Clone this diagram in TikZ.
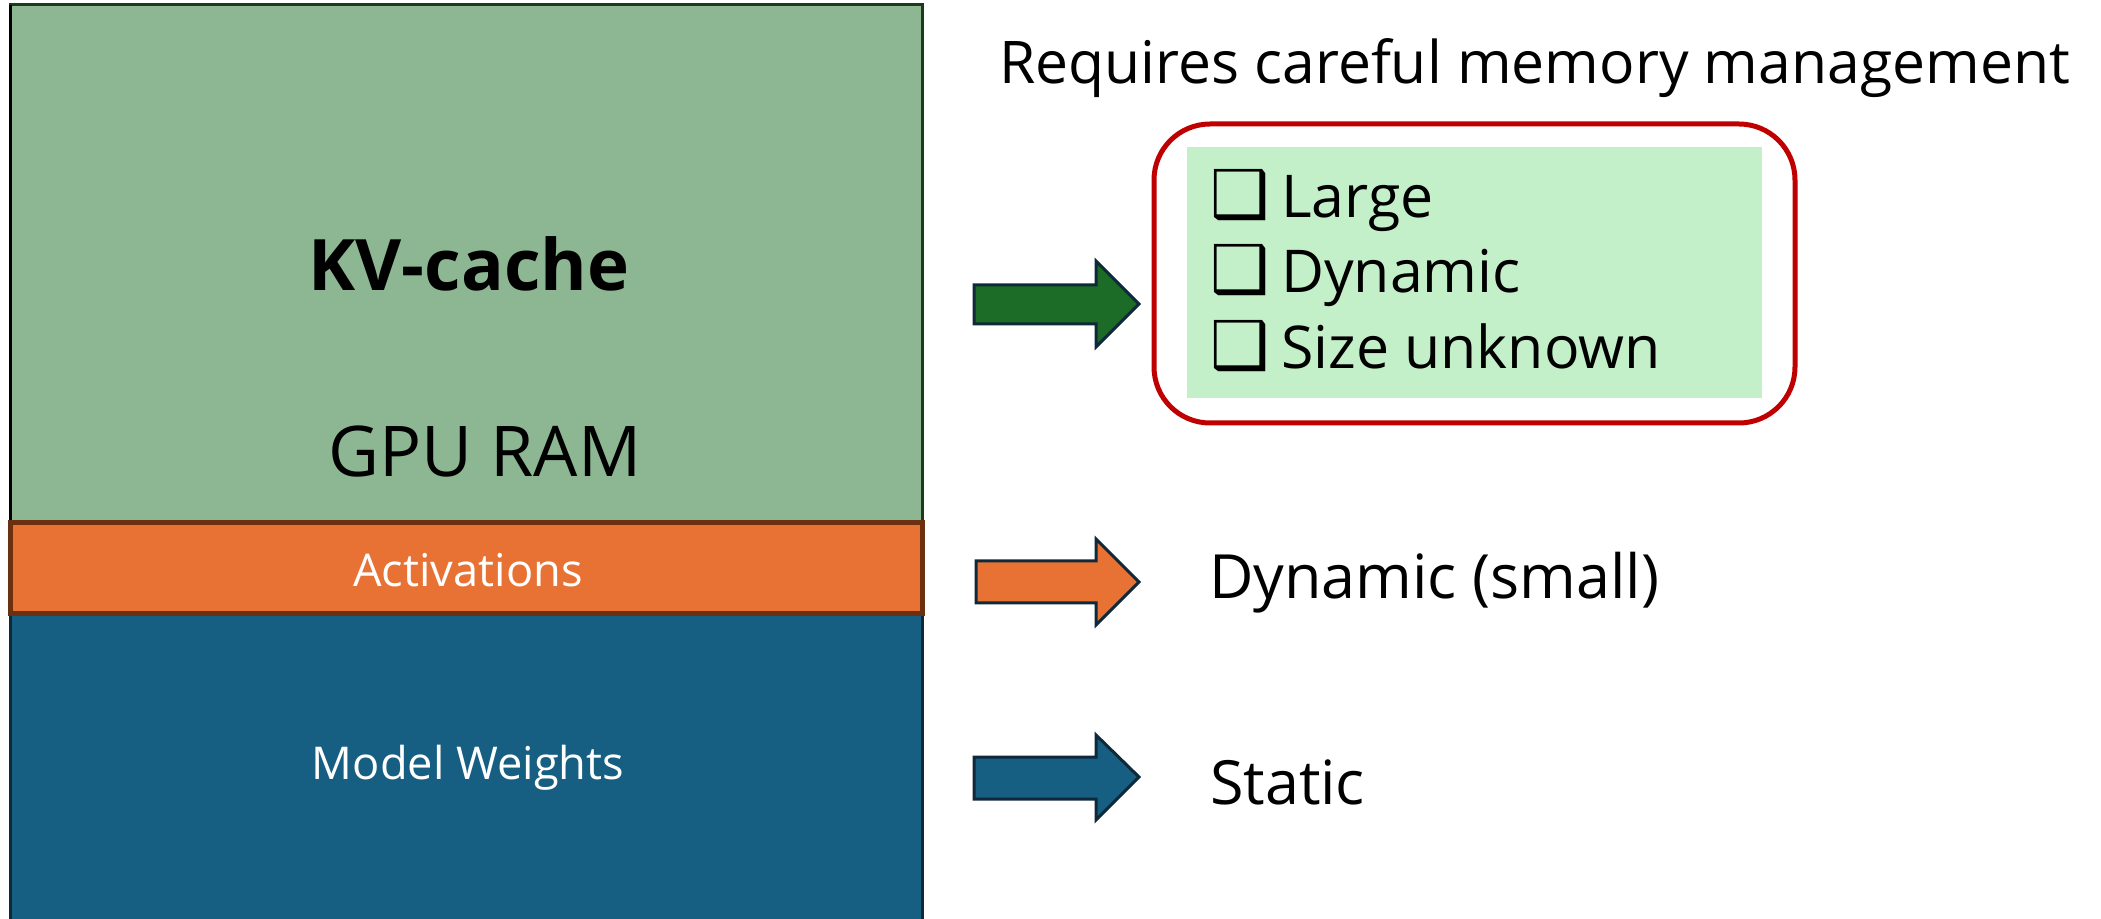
\documentclass[tikz,border=0pt]{standalone}
\usepackage{fontspec}
\setmainfont{Open Sans}
\newfontfamily\symfont{DejaVu Sans}
\definecolor{kvgreen}{HTML}{8DB692}
\definecolor{actorange}{HTML}{E87234}
\definecolor{wblue}{HTML}{175F82}
\definecolor{arrgreen}{HTML}{1C6B26}
\definecolor{lightgreen}{HTML}{C3F0C8}
\definecolor{redline}{HTML}{C00000}
\definecolor{darknavy}{HTML}{0E2A3A}
\definecolor{brownline}{HTML}{6B3010}
\definecolor{darkgreenline}{HTML}{1A3A1A}
\begin{document}
\begin{tikzpicture}[x=0.5pt,y=-0.5pt,
  blocktext/.style={font=\fontsize{22.6}{26}\selectfont, text=white},
  bigtext/.style={font=\fontsize{35}{40}\selectfont},
  sidetext/.style={font=\fontsize{30.5}{36}\selectfont, anchor=base west},
  itemtext/.style={font=\fontsize{29.5}{34}\selectfont, anchor=base west},
  chkbox/.style={font=\fontsize{33}{36}\selectfont\symfont, anchor=base west, inner sep=0pt},
  blockarrow/.style={draw=darknavy, line width=1.5pt, line join=miter}]
\useasboundingbox (0,0) rectangle (2101,919);
% memory blocks
\draw[fill=kvgreen, draw=darkgreenline, line width=1.5pt] (10,5) rectangle (922,523);
\draw[black, line width=1.5pt] (10,5) -- (10,523);
\draw[fill=wblue, draw=darknavy, line width=1.5pt] (10,614) rectangle (922,921);
\draw[fill=actorange, draw=brownline, line width=2.5pt] (10,523) rectangle (922,614);
\node[font=\fontsize{35.5}{40}\selectfont\bfseries] (kv) at (469,264) {KV-cache};
\node[bigtext] (gpu) at (485,452) {GPU RAM};
\node[blocktext] (act) at (468,570) {Activations};
\node[blocktext] (mw) at (468,768) {Model Weights};
% arrows
\draw[blockarrow, fill=arrgreen] (974,285) -- (1096,285) -- (1096,261) -- (1139,304) -- (1096,347) -- (1096,324) -- (974,324) -- cycle;
\draw[blockarrow, fill=actorange] (976,561) -- (1096,561) -- (1096,539) -- (1139,582) -- (1096,625) -- (1096,603) -- (976,603) -- cycle;
\draw[blockarrow, fill=wblue] (974,757) -- (1096,757) -- (1096,735) -- (1139,777) -- (1096,820) -- (1096,799) -- (974,799) -- cycle;
% right side
\node[sidetext, font=\fontsize{29.4}{34}\selectfont] (req) at (992,84) {Requires careful memory management};
\draw[redline, line width=2.5pt, rounded corners=28pt] (1154,124) rectangle (1795,423);
\fill[lightgreen] (1187,147) rectangle (1762,398);
\node[chkbox] (b1) at (1210,218) {❑};
\node[chkbox] (b2) at (1210,293) {❑};
\node[chkbox] (b3) at (1210,369) {❑};
\node[itemtext] (i1) at (1274,218) {Large};
\node[itemtext] (i2) at (1274,293) {Dynamic};
\node[itemtext] (i3) at (1274,369) {Size unknown};
\node[sidetext] (dyn) at (1202,599) {Dynamic (small)};
\node[sidetext] (st) at (1203,804) {Static};
\end{tikzpicture}
\end{document}
